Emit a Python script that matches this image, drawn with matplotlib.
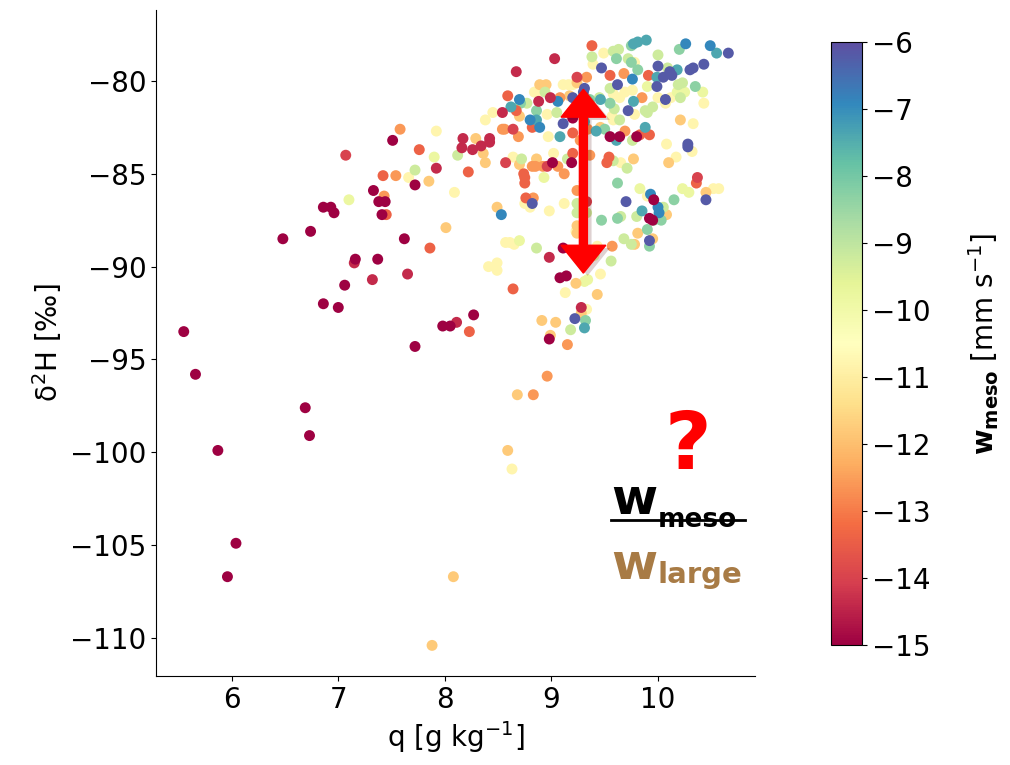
import matplotlib
matplotlib.use('Agg')
from matplotlib import pyplot as plt
import matplotlib.patheffects as pe
import numpy as np

# (q [g/kg], d2H [permil]) pairs grouped by w_meso value [mm/s]
w_m15_0 = [(5.55, -93.5), (5.66, -95.8), (5.87, -99.9), (6.04, -104.9), (5.96, -106.7),
           (6.48, -88.5), (6.69, -97.6), (6.73, -99.1), (6.74, -88.1), (6.86, -86.8),
           (6.93, -86.8), (6.96, -87.1), (6.86, -92.0), (7.00, -92.2), (7.06, -91.0),
           (7.16, -89.6), (7.33, -85.9), (7.37, -89.6), (7.38, -86.5), (7.44, -86.5),
           (7.41, -87.2), (7.51, -83.2), (7.62, -88.5), (7.72, -85.6), (7.72, -94.3),
           (7.98, -93.2), (8.05, -93.2), (8.27, -92.6), (8.98, -93.9), (9.08, -90.6),
           (9.14, -90.5), (9.01, -84.4), (9.19, -84.4), (9.11, -89.0), (9.96, -86.4),
           (9.92, -87.4), (9.95, -87.5), (9.55, -83.0), (9.80, -83.0), (9.64, -83.0),
           (9.20, -82.0)]
w_m14_4 = [(7.15, -89.8), (7.32, -90.7), (7.65, -90.4), (7.92, -84.7), (8.11, -93.0),
           (8.16, -83.6), (8.26, -83.7), (8.34, -83.5), (8.42, -83.3), (9.03, -78.8),
           (8.67, -79.5), (8.99, -80.9), (8.88, -81.1), (8.54, -81.7), (8.17, -83.1),
           (8.42, -83.1), (8.98, -89.5), (9.28, -92.2)]
w_m14_0 = [(7.07, -84.0), (8.57, -84.4), (8.96, -84.6), (8.64, -82.6), (10.37, -85.2),
           (9.24, -79.8), (9.33, -86.5)]
w_m13_4 = [(7.42, -85.1), (7.45, -87.2), (7.76, -83.7), (7.86, -89.0), (8.22, -84.9),
           (8.23, -93.5), (8.64, -91.2), (9.38, -78.1), (8.59, -80.8), (8.82, -82.5),
           (8.74, -85.0), (8.75, -85.2), (8.75, -85.5), (8.76, -86.3), (9.20, -83.9),
           (9.52, -84.4), (9.54, -84.1), (9.55, -79.7), (9.91, -79.7), (10.36, -85.5),
           (9.83, -82.9), (9.92, -82.9), (9.20, -82.8), (8.67, -81.6)]
w_m12_6 = [(7.54, -85.1), (7.58, -82.6), (7.43, -86.2), (8.82, -84.6), (8.85, -84.6),
           (8.92, -84.6), (9.06, -84.6), (9.12, -85.0), (8.83, -86.3), (9.15, -94.2),
           (9.57, -88.9), (9.33, -79.8), (9.08, -80.9), (8.54, -82.6), (8.56, -82.6),
           (8.69, -83.0), (9.68, -79.6), (9.85, -80.9), (9.69, -82.7), (9.24, -85.9),
           (8.83, -96.9), (8.96, -95.9), (9.34, -82.6), (9.27, -83.2), (9.36, -84.0)]
w_m11_8 = [(7.85, -85.4), (8.01, -87.9), (8.29, -83.1), (8.36, -83.9), (8.38, -84.4),
           (8.70, -84.5), (8.86, -84.2), (8.49, -86.8), (8.70, -81.9), (8.89, -80.2),
           (8.95, -80.2), (9.24, -80.1), (9.17, -80.8), (9.23, -90.9), (9.43, -91.5),
           (8.91, -92.9), (9.04, -93.0), (8.99, -93.7), (9.28, -92.5), (10.10, -84.4),
           (9.77, -84.2), (10.08, -87.2), (10.45, -86.0), (9.81, -88.2), (9.78, -88.8),
           (9.95, -88.5), (10.21, -82.1), (9.24, -87.8), (9.24, -88.2), (8.68, -96.9),
           (8.59, -99.9), (8.08, -106.7), (7.88, -110.4), (9.46, -82.5)]
w_m10_8 = [(7.66, -85.2), (7.92, -82.7), (8.09, -86.0), (8.64, -84.1), (9.02, -83.9),
           (8.75, -86.6), (8.80, -86.8), (8.98, -87.0), (9.12, -86.6), (8.57, -88.7),
           (8.61, -88.7), (8.65, -88.8), (8.41, -90.0), (8.49, -89.8), (8.49, -90.2),
           (9.13, -91.4), (9.46, -90.4), (9.33, -92.3), (9.39, -79.1), (9.11, -80.2),
           (9.16, -80.2), (9.20, -80.2), (8.84, -80.6), (8.87, -80.6), (8.45, -81.7),
           (8.38, -82.1), (8.96, -81.8), (9.49, -78.5), (9.78, -79.0), (9.69, -80.6),
           (9.76, -80.5), (9.58, -80.7), (9.64, -80.9), (10.00, -80.9), (10.07, -81.2),
           (10.43, -81.2), (9.78, -81.8), (10.33, -82.3), (10.08, -83.4), (10.32, -83.8),
           (10.17, -84.1), (9.65, -84.4), (9.90, -86.2), (10.52, -85.8), (10.57, -85.8),
           (9.57, -81.9), (9.58, -82.1), (10.12, -80.9), (8.97, -83.0), (8.63, -100.9),
           (9.23, -88.1), (9.43, -88.9)]
w_m9_8 = [(7.10, -86.4), (7.90, -84.1), (8.93, -85.2), (9.31, -90.8), (9.34, -90.7),
          (9.83, -85.8), (10.23, -85.8), (10.29, -86.0), (10.42, -80.6), (10.18, -80.6),
          (10.25, -80.6), (9.90, -80.3), (8.70, -88.6), (9.40, -89.4)]
w_m9_2 = [(7.72, -84.8), (8.12, -84.0), (8.72, -84.2), (9.15, -84.2), (9.24, -86.6),
          (9.24, -87.1), (9.33, -87.1), (8.86, -89.0), (9.56, -89.7), (9.18, -93.4),
          (9.38, -78.7), (8.94, -80.6), (8.77, -81.2), (9.05, -81.7), (9.63, -78.3),
          (9.58, -78.4), (9.72, -78.8), (10.00, -78.6), (10.09, -79.3), (10.19, -80.2),
          (10.23, -80.1), (10.21, -80.9), (9.55, -80.4), (9.88, -81.6), (9.90, -81.7),
          (9.95, -81.4), (9.58, -84.3), (9.71, -84.7), (9.76, -83.2), (9.80, -87.3),
          (9.65, -87.3), (10.05, -86.8), (9.68, -88.5), (9.75, -88.8), (9.59, -81.5),
          (9.64, -82.1), (9.45, -80.9)]
w_m8_3 = [(9.61, -78.8), (9.75, -79.0), (9.75, -78.1), (10.20, -78.3), (9.81, -79.4),
          (10.35, -80.3), (9.62, -85.5), (10.15, -86.4), (10.03, -87.5), (9.62, -87.4),
          (9.47, -87.5), (9.90, -88.0), (9.92, -88.9), (9.32, -92.9), (9.96, -87.5),
          (8.71, -81.2), (8.86, -81.6), (9.36, -81.0), (9.55, -81.2), (9.50, -82.6)]
w_m7_4 = [(9.31, -93.3), (8.62, -81.4), (9.61, -83.2), (10.55, -78.5), (9.89, -77.8),
          (9.77, -78.0), (9.81, -77.9), (10.18, -79.4), (9.99, -79.8), (9.77, -81.1),
          (9.88, -82.5), (9.85, -87.0), (9.46, -81.0), (9.19, -81.7), (9.31, -82.2),
          (9.42, -82.7), (9.08, -83.0), (8.86, -82.1)]
w_m6_9 = [(8.53, -87.2), (8.70, -81.0), (9.06, -81.1), (8.89, -82.5), (10.26, -78.0),
          (10.49, -78.1), (9.76, -79.9), (9.93, -86.1), (10.00, -86.8), (10.01, -87.1),
          (8.80, -82.1)]
w_m6_2 = [(8.82, -86.6), (9.22, -92.8), (9.31, -80.4), (9.11, -82.3), (9.20, -80.9),
          (9.30, -80.6), (10.66, -78.5), (9.47, -79.3), (10.00, -79.2), (10.11, -79.5),
          (10.13, -79.7), (10.30, -79.4), (10.33, -79.3), (10.43, -79.1), (9.62, -80.2),
          (9.99, -80.3), (10.05, -79.8), (9.72, -81.6), (10.07, -81.0), (10.28, -83.4),
          (10.28, -83.55), (9.70, -86.5), (10.45, -86.4), (9.92, -88.6)]

groups = [(-10.8, w_m10_8), (-9.8, w_m9_8), (-11.8, w_m11_8), (-9.2, w_m9_2),
          (-12.6, w_m12_6), (-8.3, w_m8_3), (-13.4, w_m13_4), (-7.4, w_m7_4),
          (-14.0, w_m14_0), (-6.9, w_m6_9), (-14.4, w_m14_4), (-6.2, w_m6_2),
          (-15.0, w_m15_0)]

q, dH, w = [], [], []
for val, pts in groups:
    for a, b in pts:
        q.append(a)
        dH.append(b)
        w.append(val)

arrow_q = 9.30
arrow_top = -80.45
arrow_bottom = -90.35

plt.rcParams['font.family'] = ['DejaVu Sans']
fig = plt.figure(figsize=(10.1, 7.65), dpi=100)
ax = fig.add_axes([0.1545, 0.1163, 0.593, 0.8706])
cax = fig.add_axes([0.823, 0.157, 0.0307, 0.788])

sc = ax.scatter(q, dH, c=w, cmap='Spectral', vmin=-15, vmax=-6, s=62, linewidths=0)

mid = (arrow_top + arrow_bottom) / 2
for end in (arrow_top, arrow_bottom):
    ax.arrow(arrow_q, mid, 0, end - mid, width=0.075, head_width=0.42, head_length=1.5,
             length_includes_head=True, color='red', zorder=5,
             path_effects=[pe.withSimplePatchShadow(offset=(3, -2), alpha=0.18)])

# annotation: question mark, struck-out w_meso, w_large
ax.text(10.28, -100.9, '?', color='red', fontsize=58, fontweight='bold',
        ha='center', va='baseline')
ax.annotate('w', (9.565, -103.3), fontsize=36, fontweight='bold', color='black',
            ha='left', va='baseline')
ax.annotate('meso', (9.565, -103.3), xytext=(33, -10), textcoords='offset points',
            fontsize=19, fontweight='bold', color='black', ha='left', va='baseline')
ax.plot([9.56, 10.82], [-103.62, -103.62], color='black', lw=2, clip_on=False)
ax.annotate('w', (9.565, -106.8), fontsize=36, fontweight='bold', color='#a87b45',
            ha='left', va='baseline')
ax.annotate('large', (9.565, -106.8), xytext=(33, -3), textcoords='offset points',
            fontsize=21, fontweight='bold', color='#a87b45', ha='left', va='baseline')

ax.set_xlim(5.29, 10.91)
ax.set_ylim(-112.05, -76.18)
ax.set_xticks([6, 7, 8, 9, 10])
ax.set_yticks([-80, -85, -90, -95, -100, -105, -110])
ax.tick_params(labelsize=20)
ax.spines['top'].set_visible(False)
ax.spines['right'].set_visible(False)
ax.set_xlabel('q [g kg$^{-1}$]', fontsize=20)
ax.set_ylabel('δ$^2$H [‰]', fontsize=20)

cb = fig.colorbar(sc, cax=cax)
cb.set_ticks(np.arange(-15, -5, 1))
cb.ax.tick_params(labelsize=20)
cb.set_label(r'$\mathbf{w_{meso}}$ [mm s$^{\mathregular{-1}}$]', fontsize=20, labelpad=26)

fig.savefig('out.png', dpi=100)
